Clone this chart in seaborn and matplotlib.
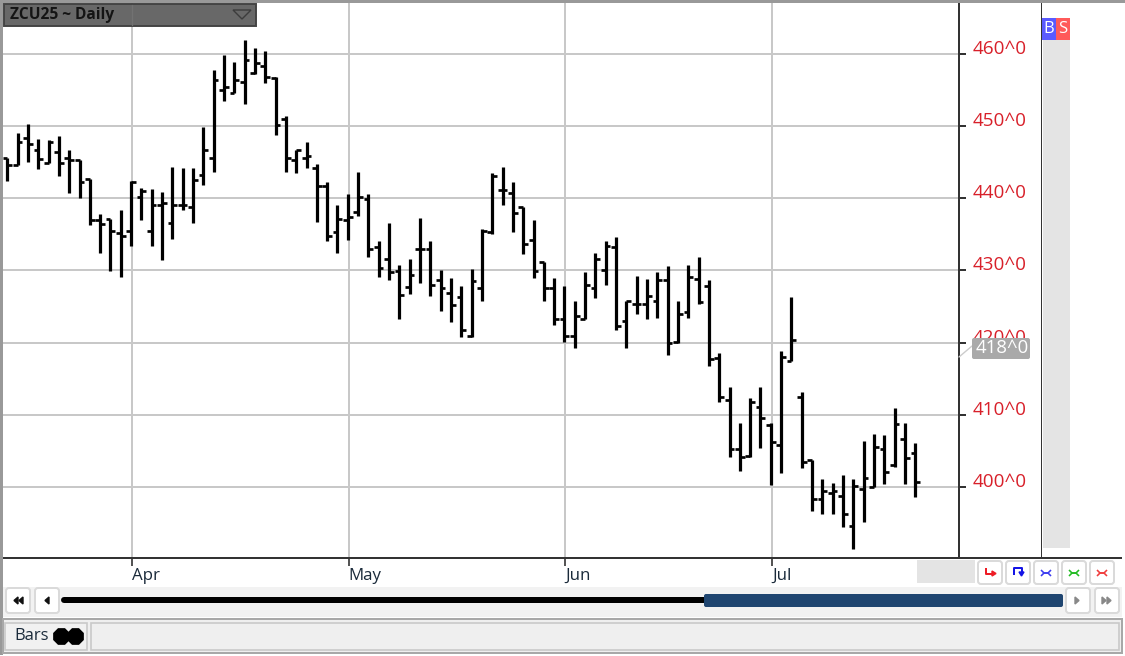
import numpy as np
import pandas as pd
import matplotlib
matplotlib.use("Agg")
import matplotlib.pyplot as plt
from matplotlib.patches import FancyBboxPatch, Rectangle, Polygon
import seaborn as sns

# Daily bars, ZCU25
opens = [445.6, 444.6, 448.3, 446.6, 444.8, 446.4, 445.6, 445.3, 442.6, 437.0,
         437.1, 435.1, 435.4, 440.1, 435.4, 439.1, 436.5, 439.0, 438.7, 443.2,
         445.6, 455.0, 454.6, 456.0, 457.3, 458.3, 456.6, 450.9, 445.2, 445.6,
         444.2, 441.6, 435.3, 436.9, 438.1, 439.9, 433.2, 431.6, 429.9, 427.7,
         433.0, 433.0, 428.7, 426.8, 426.3, 420.9, 427.5, 435.3, 441.1, 440.7,
         438.7, 434.2, 431.2, 427.5, 423.3, 420.9, 423.3, 427.6, 430.1, 433.2,
         423.0, 425.4, 425.4, 425.8, 428.6, 420.1, 424.2, 428.8, 427.8, 417.9,
         412.1, 405.2, 404.3, 411.1, 408.6, 405.8, 417.4, 412.4, 403.7, 398.3,
         399.1, 398.7, 394.6, 399.7, 400.0, 405.2, 403.1, 406.7, 404.7]
highs = [445.6, 449.0, 450.2, 448.2, 448.1, 448.6, 446.7, 445.3, 442.6, 437.8,
         437.1, 438.3, 442.3, 441.4, 441.2, 440.8, 444.3, 444.1, 444.1, 449.8,
         457.7, 459.8, 458.8, 461.9, 460.8, 460.4, 456.7, 451.4, 446.7, 447.8,
         444.7, 442.2, 439.0, 440.6, 443.6, 440.6, 434.1, 436.6, 430.8, 431.5,
         437.3, 434.1, 430.0, 429.0, 427.8, 430.2, 435.7, 443.4, 444.3, 442.2,
         438.7, 437.0, 431.2, 429.0, 427.8, 425.7, 429.8, 432.4, 434.1, 434.6,
         425.7, 429.2, 428.8, 429.8, 430.6, 425.7, 430.8, 431.9, 428.6, 418.5,
         413.9, 408.8, 412.3, 413.9, 408.8, 418.8, 426.3, 413.1, 403.8, 401.1,
         400.6, 401.7, 401.1, 406.4, 407.3, 407.2, 411.0, 408.8, 406.1]
lows = [442.3, 444.6, 445.0, 444.0, 444.8, 443.0, 440.7, 440.0, 436.3, 432.4,
        429.9, 429.1, 433.3, 436.9, 433.3, 431.4, 434.3, 438.3, 436.5, 441.8,
        443.6, 453.4, 454.5, 453.0, 457.2, 455.9, 448.7, 443.6, 443.4, 444.2,
        436.7, 434.1, 432.4, 434.2, 437.5, 431.8, 429.1, 428.7, 423.2, 426.7,
        428.3, 426.5, 424.4, 422.8, 420.7, 420.8, 425.7, 435.0, 439.1, 435.3,
        432.2, 428.9, 425.7, 422.4, 420.1, 419.3, 423.3, 426.1, 427.9, 421.8,
        419.3, 424.0, 423.2, 423.4, 418.3, 420.0, 423.4, 425.3, 416.7, 411.8,
        404.1, 402.2, 404.2, 405.4, 400.3, 402.0, 417.4, 402.6, 396.7, 396.3,
        396.3, 394.4, 391.4, 395.1, 400.0, 400.4, 402.7, 400.4, 398.6]
closes = [444.6, 447.8, 447.5, 445.4, 447.7, 444.8, 445.3, 442.2, 437.0, 436.4,
          435.4, 434.8, 442.2, 441.0, 439.1, 439.3, 439.1, 439.0, 442.5, 446.6,
          456.4, 455.4, 456.3, 459.1, 458.7, 456.8, 450.1, 445.6, 446.7, 445.8,
          441.6, 434.7, 437.1, 437.4, 440.2, 432.9, 430.3, 429.7, 426.6, 429.3,
          433.0, 427.9, 427.5, 425.2, 421.7, 428.5, 435.5, 443.1, 441.1, 437.9,
          433.7, 429.9, 427.5, 423.3, 420.9, 423.7, 428.0, 431.6, 433.4, 422.3,
          425.7, 425.4, 426.5, 428.6, 419.9, 424.0, 429.1, 425.6, 417.7, 412.4,
          405.2, 404.2, 411.8, 409.5, 406.2, 418.0, 420.3, 403.5, 398.3, 399.5,
          399.5, 396.2, 400.1, 401.3, 405.5, 402.1, 408.7, 404.0, 400.7]

month_pos = [12.1, 33.1, 54.1, 74.1]
month_names = ["Apr", "May", "Jun", "Jul"]
price_ticks = [400, 410, 420, 430, 440, 450, 460]
price_labels = ["400^0", "410^0", "420^0", "430^0", "440^0", "450^0", "460^0"]
last_label = "418^0"
title = "ZCU25 ~ Daily"

W, H = 1125, 656
FONT = ["Open Sans", "DejaVu Sans"]
PX = 0.72  # one pixel in points at dpi 100

sns.set_theme(style="white")
plt.rcParams["font.family"] = FONT

fig = plt.figure(figsize=(W / 100, H / 100), dpi=100, facecolor="white")
ax = fig.add_axes([3 / W, (H - 557.5) / H, 956 / W, 554.5 / H])

bars = np.arange(len(opens))
wicks = pd.DataFrame({
    "bar": np.repeat(bars, 2),
    "price": np.column_stack([lows, highs]).ravel(),
})
sns.lineplot(data=wicks, x="bar", y="price", units="bar", estimator=None, sort=False,
             color="black", linewidth=3.2 * PX, solid_capstyle="butt", legend=False, ax=ax)
ax.hlines(opens, bars - 0.46, bars, color="black", linewidth=2.7 * PX, zorder=3)
ax.hlines(closes, bars, bars + 0.46, color="black", linewidth=2.7 * PX, zorder=3)

ax.set_xlim(-0.417, 92.24)
ax.set_ylim(390.24, 467)
ax.set_xlabel("")
ax.set_ylabel("")
ax.set_xticks(month_pos, month_names, ha="left", fontsize=12.2, color="#1a2a3a")
ax.set_yticks(price_ticks, price_labels, va="baseline", fontsize=13.6, color="#d8202a")
ax.yaxis.tick_right()
ax.tick_params(axis="y", length=7 * PX, width=2 * PX, color="#333333", pad=5, right=True)
ax.tick_params(axis="x", length=8 * PX, width=2 * PX, color="#555555", pad=2, bottom=True)
ax.grid(True, color="#c8c8c8", linewidth=2 * PX)
ax.set_axisbelow(True)
for side in ["left", "top"]:
    ax.spines[side].set_visible(False)
for side in ["right", "bottom"]:
    ax.spines[side].set_color("#333333")
    ax.spines[side].set_linewidth(2 * PX)

# window furniture, drawn in pixel coordinates on top of the chart
ui = fig.add_axes([0, 0, 1, 1], facecolor="none")
ui.set_xlim(0, W)
ui.set_ylim(H, 0)
ui.axis("off")


def box(x0, y0, x1, y1, fc, ec="none", lw=0.0, z=2):
    ui.add_patch(Rectangle((x0, y0), x1 - x0, y1 - y0, facecolor=fc, edgecolor=ec, linewidth=lw, zorder=z))


def button(x0, y0, x1, y1):
    ui.add_patch(FancyBboxPatch((x0 + 2, y0 + 2), x1 - x0 - 4, y1 - y0 - 4, boxstyle="round,pad=2,rounding_size=3",
                                facecolor="white", edgecolor="#dadada", linewidth=2 * PX, zorder=3))


def stroke(xs, ys, color, lw=2.0):
    ui.plot(xs, ys, color=color, linewidth=lw * PX, solid_capstyle="butt", zorder=4)


# frame and header
box(0, 0, W, 3, "#999999")
box(0, 0, 3, 655, "#999999")
box(4, 4, 256, 26, "#686868", "#444444", 1.4)
ui.plot([132, 132], [5, 25], color="#727272", linewidth=1, zorder=3)
ui.text(10, 15, title, fontsize=11.2, fontweight="bold", color="#141414", va="center", family=FONT, zorder=4)
ui.add_patch(Polygon([[233, 10], [251, 10], [242, 19]], closed=True, facecolor="none", edgecolor="#3c3c3c", linewidth=1, zorder=4))

# right hand panel
box(1040.5, 3, 1042, 557.5, "#333333")
box(1043, 40, 1070, 548, "#e4e4e4")
box(1042, 18, 1056, 40, "#5a5aff")
box(1056, 18, 1070, 40, "#ff5a5a")
ui.text(1049, 29, "B", color="white", fontsize=12, ha="center", va="center", family=FONT, zorder=4)
ui.text(1063, 29, "S", color="white", fontsize=12, ha="center", va="center", family=FONT, zorder=4)
box(959, 556.5, 1122, 558.5, "#333333")

# last price tag
ui.plot([959, 972], [357, 346], color="#cccccc", linewidth=1, zorder=3)
ui.add_patch(FancyBboxPatch((974, 340), 54, 17, boxstyle="round,pad=2,rounding_size=2",
                            facecolor="#a9a9a9", edgecolor="none", zorder=4))
ui.text(1002, 348, last_label, color="white", fontsize=13.4, ha="center", va="center", family=FONT, zorder=5)

# toolbar under the chart
box(917, 560, 975, 583, "#e4e4e4")
for x0 in [978, 1006, 1034, 1062, 1090]:
    button(x0, 561, x0 + 24, 584)
stroke([985.5, 985.5, 993], [568, 573.5, 573.5], "#ee1c25")
ui.add_patch(Polygon([[992, 571], [996, 573.5], [992, 576]], closed=True, color="#ee1c25", zorder=4))
stroke([1013.5, 1013.5, 1021.5, 1021.5], [575, 568, 568, 572], "#1414e6")
ui.add_patch(Polygon([[1019, 572], [1024, 572], [1021.5, 576]], closed=True, color="#1414e6", zorder=4))
for x0, col in zip([1041, 1069, 1097], ["#3c3cf0", "#22bb22", "#f03c3c"]):
    stroke([x0, x0 + 3, x0 + 7, x0 + 10], [570, 573, 573, 570], col, 1.6)
    stroke([x0, x0 + 3, x0 + 7, x0 + 10], [576, 573, 573, 576], col, 1.6)

# scroll bar
box(3, 587, 1122, 617, "#f2f2f2", z=1)
for x0, x1 in [(6, 30), (35, 59), (1066, 1090), (1095, 1119)]:
    button(x0, 588, x1, 613)
ui.plot([64, 706], [600, 600], color="black", linewidth=6 * PX, solid_capstyle="round", zorder=3)
ui.add_patch(FancyBboxPatch((706, 596), 355, 9, boxstyle="round,pad=2,rounding_size=2",
                            facecolor="#1f4570", edgecolor="none", zorder=4))
for x, col, step in [(16, "#111111", -1), (21, "#111111", -1), (47, "#111111", -1),
                     (1077, "#888888", 1), (1104, "#888888", 1), (1109, "#888888", 1)]:
    ui.add_patch(Polygon([[x - 2 * step, 597], [x - 2 * step, 604], [x + 2 * step, 600.5]], closed=True, color=col, zorder=4))

# status strip
box(3, 619, 1122, 653, "none", "#a8a8a8", 2 * PX)
box(3, 620, 1121, 652, "#efefef", z=1)
box(5, 623, 87, 650, "#f1f1f1", "#c9c9c9", 1.2)
box(91, 623, 1119, 650, "#efefef", "#c9c9c9", 1.2)
ui.text(14, 636, "Bars", fontsize=12, color="#1a2a3a", va="center", family=FONT, zorder=4)
ui.scatter([61, 75], [635.5, 635.5], s=170, marker="8", color="black", linewidths=0, zorder=4)

fig.savefig("out.png", dpi=100)
